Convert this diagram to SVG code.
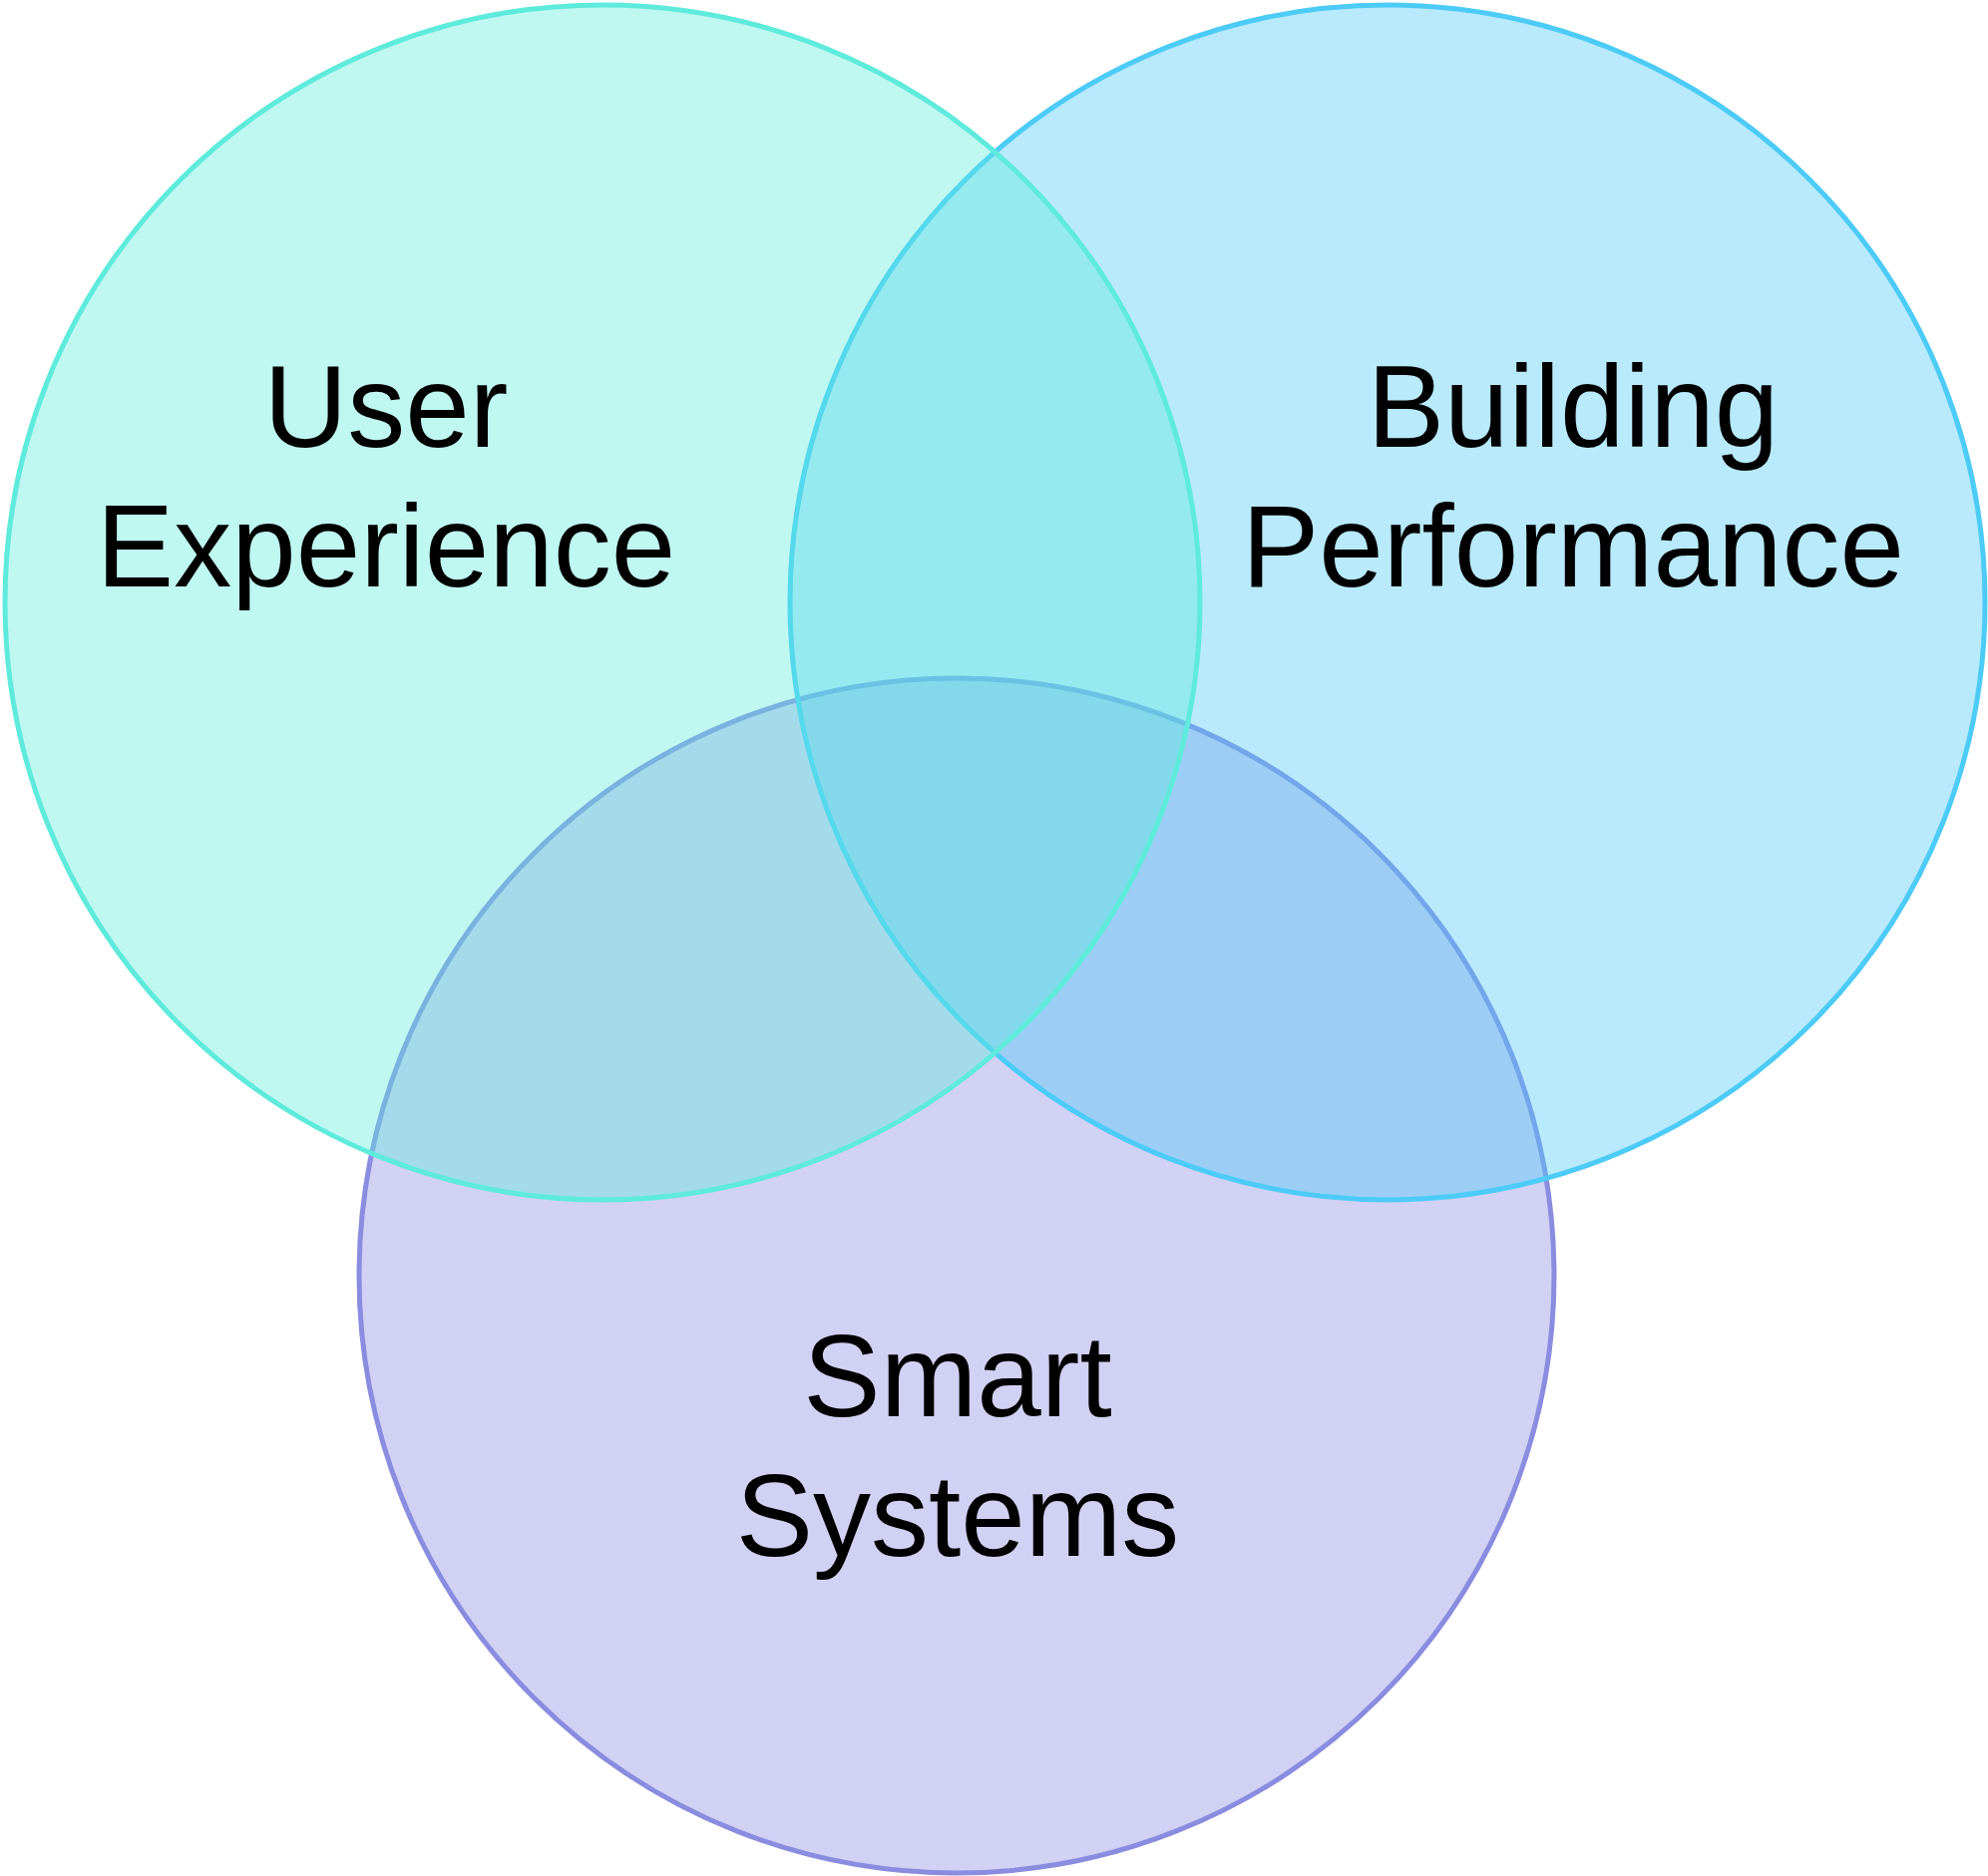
<svg xmlns="http://www.w3.org/2000/svg" width="1993" height="1881" viewBox="0 0 1993 1881">
  <style>
    .set { stroke-width: 5; fill-opacity: 0.4; }
    .lbl { font-family: "Liberation Sans", Arial, sans-serif; font-size: 116px; fill: #000000; text-anchor: middle; }
  </style>
  <rect x="0" y="0" width="1993" height="1881" fill="#ffffff"/>
  <g id="smart-systems">
    <circle class="set" cx="959" cy="1279" r="599" fill="#8A8CE0" stroke="#8A8CE0"/>
    <text class="lbl" x="960" y="1420">Smart</text>
    <text class="lbl" x="960" y="1560">Systems</text>
  </g>
  <g id="building-performance">
    <circle class="set" cx="1391" cy="604" r="599" fill="#4DCBF7" stroke="#4DCBF7"/>
  </g>
  <g id="user-experience">
    <circle class="set" cx="604" cy="604" r="599" fill="#5EEBDB" stroke="#5EEBDB"/>
  </g>
  <g id="labels">
    <text class="lbl" x="387" y="448">User</text>
    <text class="lbl" x="387" y="588">Experience</text>
    <text class="lbl" x="1577" y="448">Building</text>
    <text class="lbl" x="1577" y="588">Performance</text>
  </g>
</svg>
